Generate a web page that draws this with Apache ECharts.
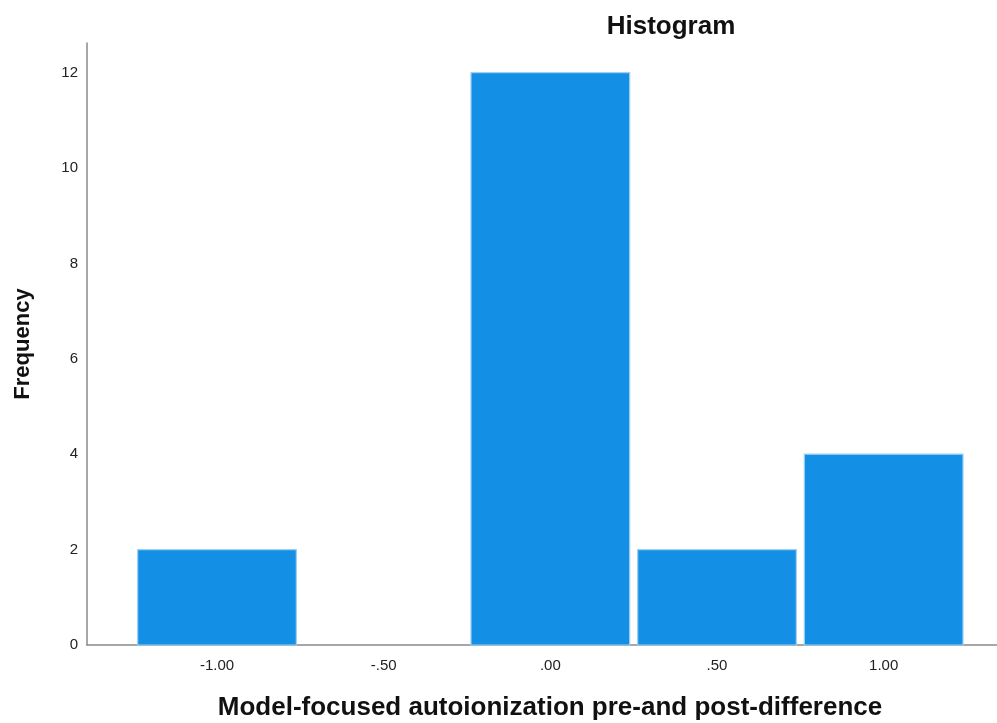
<!DOCTYPE html>
<html>
<head>
<meta charset="utf-8">
<script src="https://cdn.jsdelivr.net/npm/echarts@6/dist/echarts.min.js"></script>
<style>
  html, body { margin: 0; padding: 0; background: #ffffff; }
  #chart { width: 997px; height: 723px; }
</style>
</head>
<body>
<div id="chart"></div>
<script>
// Histogram bins: centre of each bin and its frequency
const binCenters = [-1.0, -0.5, 0.0, 0.5, 1.0];
const binWidth = 0.5;
const frequencies = [2, 0, 12, 2, 4];

// Axis tick values and labels
const xTickValues = [-1.0, -0.5, 0.0, 0.5, 1.0];
const xTickLabels = ['-1.00', '-.50', '.00', '.50', '1.00'];
const yTickValues = [0, 2, 4, 6, 8, 10, 12];

const chart = echarts.init(document.getElementById('chart'), null, { renderer: 'canvas' });

const binData = binCenters.map((c, i) => [c - binWidth / 2, c + binWidth / 2, frequencies[i]]);

function renderBin(params, api) {
  const x0 = api.value(0);
  const x1 = api.value(1);
  const f = api.value(2);
  if (!f) return null;
  const pLeft = api.coord([x0, f]);
  const pRight = api.coord([x1, 0]);
  const gap = 4;
  return {
    type: 'rect',
    shape: {
      x: pLeft[0] + gap,
      y: pLeft[1],
      width: pRight[0] - pLeft[0] - gap * 2,
      height: pRight[1] - pLeft[1]
    },
    style: {
      fill: '#1390e6',
      stroke: '#9ccff2',
      lineWidth: 1.2
    }
  };
}

const fontFamily = 'Liberation Sans, Arial, sans-serif';

chart.setOption({
  animation: false,
  backgroundColor: '#ffffff',
  title: {
    text: 'Histogram',
    left: 666,
    top: 9,
    textAlign: 'center',
    textStyle: {
      fontFamily: fontFamily,
      fontWeight: 'bold',
      fontSize: 26,
      color: '#111111'
    }
  },
  grid: {
    left: 87,
    right: 0,
    top: 43,
    bottom: 78,
    containLabel: false,
    outerBoundsMode: 'none'
  },
  xAxis: {
    type: 'value',
    min: -1.39,
    max: 1.34,
    name: 'Model-focused autoionization pre-and post-difference',
    nameLocation: 'middle',
    nameGap: 50,
    nameTextStyle: {
      fontFamily: fontFamily,
      fontWeight: 'bold',
      fontSize: 26,
      color: '#111111',
      padding: [0, 0, 0, 16]
    },
    splitLine: { show: false },
    axisTick: { show: false },
    axisLine: { show: true, onZero: false, lineStyle: { color: '#8a8a8a', width: 1.5 } },
    axisLabel: {
      customValues: xTickValues,
      formatter: v => {
        const i = xTickValues.findIndex(t => Math.abs(t - v) < 1e-9);
        return i >= 0 ? xTickLabels[i] : '';
      },
      margin: 13,
      fontFamily: fontFamily,
      fontSize: 15,
      color: '#222222'
    }
  },
  yAxis: {
    type: 'value',
    min: 0,
    max: 12.62,
    name: 'Frequency',
    nameLocation: 'middle',
    nameGap: 53,
    nameRotate: 90,
    nameTextStyle: {
      fontFamily: fontFamily,
      fontWeight: 'bold',
      fontSize: 22,
      color: '#111111'
    },
    splitLine: { show: false },
    axisTick: { show: false },
    axisLine: { show: true, onZero: false, lineStyle: { color: '#8a8a8a', width: 1.5 } },
    axisLabel: {
      customValues: yTickValues,
      margin: 9,
      padding: [7, 0, 0, 0],
      fontFamily: fontFamily,
      fontSize: 15,
      color: '#222222'
    }
  },
  series: [{
    type: 'custom',
    renderItem: renderBin,
    encode: { x: [0, 1], y: 2 },
    data: binData
  }]
});
</script>
</body>
</html>
